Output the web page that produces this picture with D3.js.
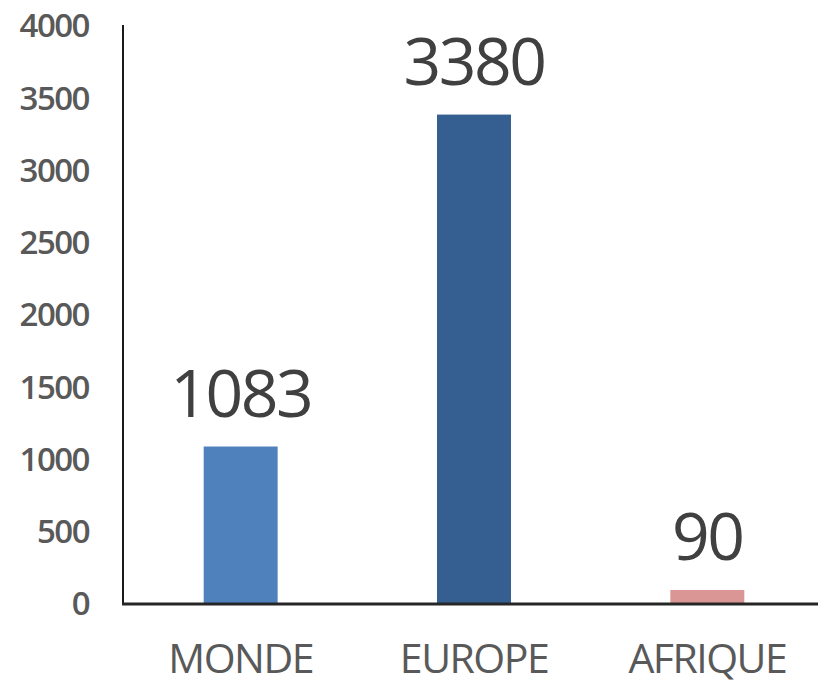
<!DOCTYPE html>
<html>
<head>
<meta charset="utf-8">
<script src="https://cdn.jsdelivr.net/npm/d3@7"></script>
<style>
  body { margin: 0; background: #fff; }
  svg text { font-family: "Open Sans", "Noto Sans", sans-serif; }
</style>
</head>
<body>
<div id="chart"></div>
<script>
  var categories = ['MONDE', 'EUROPE', 'AFRIQUE'];
  var values = [1083, 3380, 90];
  var barColors = ['#4f81bd', '#355f91', '#d99694'];
  var yTicks = [0, 500, 1000, 1500, 2000, 2500, 3000, 3500, 4000];

  var WIDTH = 818;
  var HEIGHT = 685;
  var MARGIN = { TOP: 25, RIGHT: -6, BOTTOM: 82, LEFT: 124 };

  var width = WIDTH - MARGIN.LEFT - MARGIN.RIGHT;
  var height = HEIGHT - MARGIN.TOP - MARGIN.BOTTOM;

  var svg = d3.select('#chart').append('svg')
    .attr('width', WIDTH)
    .attr('height', HEIGHT)
    .append('g')
    .attr('transform', 'translate(' + MARGIN.LEFT + ',' + MARGIN.TOP + ')');

  var x = d3.scaleBand()
    .domain(categories)
    .range([0, width])
    .paddingInner(0.683)
    .paddingOuter(0.3415);

  var y = d3.scaleLinear()
    .domain([0, 4000])
    .range([height, 0]);

  // bars
  svg.selectAll('.bar')
    .data(values)
    .enter().append('rect')
    .attr('class', 'bar')
    .attr('x', function(d, i) { return x(categories[i]); })
    .attr('width', x.bandwidth())
    .attr('y', function(d) { return y(d); })
    .attr('height', function(d) { return height - y(d); })
    .style('fill', function(d, i) { return barColors[i]; });

  // value labels
  svg.selectAll('.value')
    .data(values)
    .enter().append('text')
    .attr('class', 'value')
    .attr('x', function(d, i) { return x(categories[i]) + x.bandwidth() / 2; })
    .attr('y', function(d) { return y(d) - 30; })
    .attr('text-anchor', 'middle')
    .style('font-size', '66px')
    .style('letter-spacing', '-2.5px')
    .style('fill', '#404040')
    .text(function(d) { return d; });

  // y axis (labels only + line)
  var yAxis = d3.axisLeft(y)
    .tickValues(yTicks)
    .tickFormat(d3.format('d'))
    .tickSize(0)
    .tickPadding(35);

  var gy = svg.append('g')
    .attr('class', 'y axis')
    .call(yAxis);
  gy.select('.domain').remove();
  gy.selectAll('text')
    .style('font-size', '33px')
    .style('font-family', '"Open Sans", sans-serif')
    .style('font-weight', '600')
    .style('letter-spacing', '-1.5px')
    .style('fill', '#595959')
    .attr('dy', '0.36em');

  svg.append('line')
    .attr('x1', -1).attr('x2', -1)
    .attr('y1', 0).attr('y2', height)
    .style('stroke', '#1a1a1a')
    .style('stroke-width', 2);

  // x axis
  var xAxis = d3.axisBottom(x)
    .tickSize(0);

  var gx = svg.append('g')
    .attr('class', 'x axis')
    .attr('transform', 'translate(0,' + height + ')')
    .call(xAxis);
  gx.select('.domain').remove();
  gx.selectAll('text')
    .attr('y', 70)
    .attr('dy', 0)
    .style('font-size', '41px')
    .style('font-family', '"Open Sans", sans-serif')
    .style('letter-spacing', '-1.5px')
    .style('fill', '#595959');

  svg.append('line')
    .attr('x1', -2).attr('x2', width)
    .attr('y1', height + 1).attr('y2', height + 1)
    .style('stroke', '#262626')
    .style('stroke-width', 3);
</script>
</body>
</html>
